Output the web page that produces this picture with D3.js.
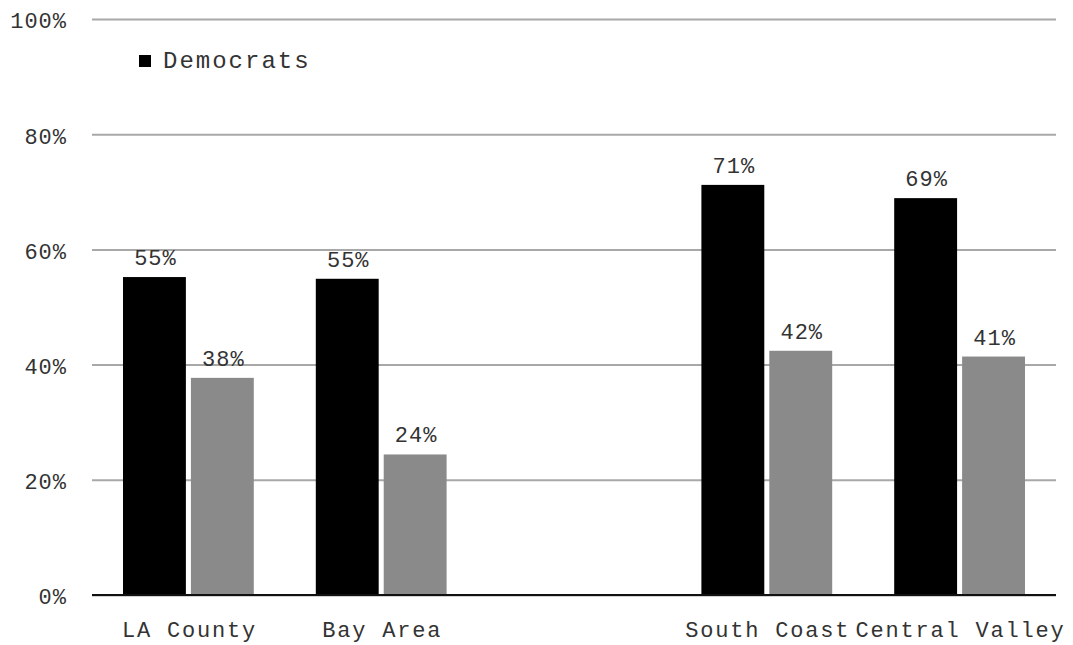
<!DOCTYPE html>
<html>
<head>
<meta charset="utf-8">
<script src="https://cdn.jsdelivr.net/npm/d3@7"></script>
<style>
  html, body { margin: 0; padding: 0; background: #fff; }
  svg { display: block; }
  text { font-family: "Liberation Mono", "Courier New", monospace; fill: #333; }
</style>
</head>
<body>
<svg id="chart" width="1073" height="645"></svg>
<script>
// Regions (the blank slot leaves a gap between the two groups)
const categories = ["LA County", "Bay Area", "", "South Coast", "Central Valley"];
const seriesNames = ["Democrats", "Others"];
const democrats = [55.2, 54.9, null, 71.2, 68.9];
const others    = [37.7, 24.4, null, 42.4, 41.4];
const yTicks = [0, 20, 40, 60, 80, 100];
const seriesColors = ["#000000", "#8a8a8a"];

const svg = d3.select("#chart");
const margin = { top: 19, right: 17, bottom: 50, left: 92 };
const width = 1073 - margin.left - margin.right;
const height = 645 - margin.top - margin.bottom;

const g = svg.append("g").attr("transform", `translate(${margin.left},${margin.top})`);

const x0 = d3.scaleBand().domain(categories).range([0, width]).padding(0);
const x1 = d3.scaleBand().domain(seriesNames)
  .range([31, x0.bandwidth() - 31]).paddingInner(0.074).paddingOuter(0);
const y = d3.scaleLinear().domain([0, 100]).range([height, 0]);

// Horizontal gridlines with percent labels
const yAxis = d3.axisLeft(y).tickValues(yTicks).tickSize(-width).tickFormat(d => d + "%");
const ya = g.append("g").call(yAxis);
ya.select(".domain").remove();
ya.selectAll(".tick line").attr("stroke", "#a8a8a8").attr("stroke-width", 2);
ya.selectAll(".tick text")
  .attr("x", -25).attr("dy", "0.4em")
  .style("font-size", "22px").style("letter-spacing", "1px").style("fill", "#333");

// Bars
const rows = categories.map((c, i) => ({
  cat: c,
  vals: [democrats[i], others[i]]
}));

const groups = g.selectAll(".grp").data(rows).join("g")
  .attr("class", "grp")
  .attr("transform", d => `translate(${x0(d.cat)},0)`);

const cells = groups.selectAll("g.cell")
  .data(d => d.vals.map((v, k) => ({ key: seriesNames[k], v, k })).filter(e => e.v != null))
  .join("g").attr("class", "cell");

cells.append("rect")
  .attr("x", d => x1(d.key))
  .attr("width", x1.bandwidth())
  .attr("y", d => y(d.v))
  .attr("height", d => y(0) - y(d.v))
  .attr("fill", d => seriesColors[d.k]);

cells.append("text")
  .attr("x", d => x1(d.key) + x1.bandwidth() / 2 + 1)
  .attr("y", d => y(d.v) - 12)
  .attr("text-anchor", "middle")
  .style("font-size", "22px").style("letter-spacing", "1px")
  .text(d => Math.round(d.v) + "%");

// Baseline axis
g.append("line")
  .attr("x1", 0).attr("x2", width)
  .attr("y1", y(0)).attr("y2", y(0))
  .attr("stroke", "#111").attr("stroke-width", 2);

// Category labels
g.selectAll(".cat").data(categories.filter(c => c !== "")).join("text")
  .attr("class", "cat")
  .attr("x", d => x0(d) + x0.bandwidth() / 2 + 1)
  .attr("y", height + 42)
  .attr("text-anchor", "middle")
  .style("font-size", "22px").style("letter-spacing", "1.8px")
  .text(d => d);

// Legend
const lg = svg.append("g").attr("transform", "translate(139,55)");
lg.append("rect").attr("width", 12).attr("height", 12).attr("fill", seriesColors[0]);
lg.append("text").attr("x", 24).attr("y", 13)
  .style("font-size", "24px").style("letter-spacing", "2px")
  .text(seriesNames[0]);
</script>
</body>
</html>
